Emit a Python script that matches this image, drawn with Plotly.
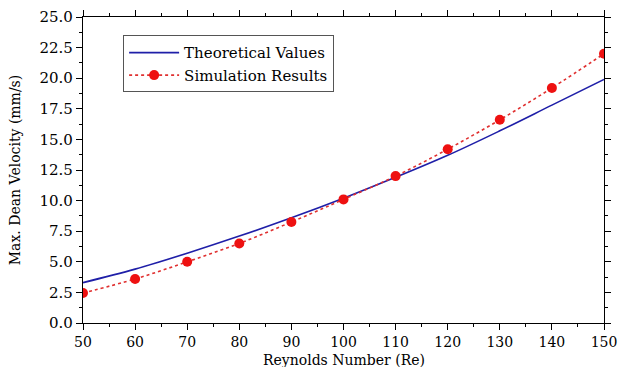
import plotly.graph_objects as go

re_values = [50, 60, 70, 80, 90, 100, 110, 120, 130, 140, 150]
theoretical = [3.3, 4.4, 5.7, 7.1, 8.6, 10.2, 11.9, 13.7, 15.7, 17.8, 19.9]
simulation = [2.45, 3.6, 5.0, 6.5, 8.25, 10.1, 12.0, 14.2, 16.6, 19.2, 22.0]

font_family = "DejaVu Serif"

fig = go.Figure()
fig.add_trace(go.Scatter(
    x=re_values, y=theoretical, mode="lines", name="Theoretical Values",
    line=dict(color="#1f1fa8", width=1.6, shape="spline"),
))
fig.add_trace(go.Scatter(
    x=re_values, y=simulation, mode="lines+markers", name="Simulation Results",
    line=dict(color="#e03030", width=1.6, dash="dot", shape="spline"),
    marker=dict(color="#ee1111", size=10),
))

axis_common = dict(
    showline=True, linecolor="black", linewidth=1.2, mirror="ticks",
    ticks="outside", ticklen=6, tickwidth=1.2, tickcolor="black",
    showgrid=False, zeroline=False, automargin=False,
    minor=dict(ticks="outside", ticklen=3, tickwidth=1, tickcolor="black"),
)

fig.update_xaxes(
    range=[50, 150], tickvals=[50, 60, 70, 80, 90, 100, 110, 120, 130, 140, 150],
    minor_dtick=5,
    tickfont=dict(family=font_family, size=14, color="black"),
    **axis_common,
)
fig.update_yaxes(
    range=[0, 25], dtick=2.5, tickformat=".1f", minor_dtick=1.25,
    tickfont=dict(family=font_family, size=15, color="black"),
    title=dict(text="Max. Dean Velocity (mm/s)", font=dict(family=font_family, size=14, color="black")),
    **axis_common,
)

fig.add_annotation(
    text="Reynolds Number (Re)", xref="paper", yref="paper", x=0.5, y=0,
    xanchor="center", yanchor="middle", yshift=-37, showarrow=False,
    font=dict(family=font_family, size=14, color="black"),
)

fig.update_layout(
    width=622, height=367,
    margin=dict(l=83, r=18, t=17, b=44),
    paper_bgcolor="white", plot_bgcolor="white",
    showlegend=True,
    legend=dict(
        x=0.077, y=0.94, xanchor="left", yanchor="top",
        bordercolor="#555555", borderwidth=1, bgcolor="white",
        font=dict(family=font_family, size=15, color="black"),
        tracegroupgap=0, itemwidth=50,
    ),
)

fig.write_html("out.html")
